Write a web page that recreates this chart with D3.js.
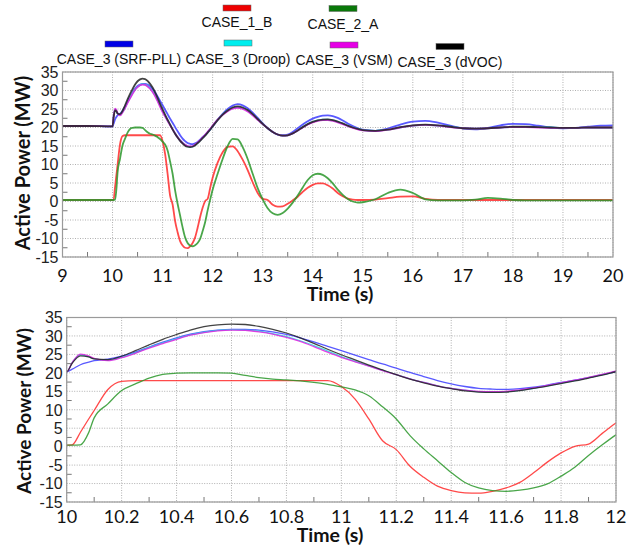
<!DOCTYPE html>
<html lang="en">
<head>
<meta charset="utf-8" />
<title>Active Power - CASE comparison</title>
<style>
  body { margin: 0; padding: 0; background: #fff; }
  svg { display: block; }
  .grid line { stroke: #b0b0b0; stroke-width: 1; stroke-dasharray: 1,1.5; }
  .frame { fill: none; stroke: #9a9a9a; stroke-width: 1.2; }
  .minor line { stroke: #777; stroke-width: 1; }
  .ytick { font-family: "Liberation Sans", Arial, sans-serif; font-size: 16px; fill: #222; }
  .xtick { font-family: Lato, "Open Sans", sans-serif; font-size: 18px; fill: #111; }
  .axis-title { font-family: Lato, "Open Sans", sans-serif; font-weight: bold; fill: #111; }
  .legend text { font-family: "Liberation Sans", Arial, sans-serif; font-size: 14px; fill: #111; }
  .series { fill: none; stroke-linejoin: round; stroke-opacity: 0.85; }
</style>
</head>
<body>
<div id="chart"></div>
<script src="https://d3js.org/d3.v7.min.js"></script>
<script>
// time axis (s), shared by every series
const times = [
  9, 9.5, 10, 10.02, 10.05, 10.08,
  10.1, 10.15, 10.2, 10.25, 10.3, 10.35, 10.4, 10.45, 10.5, 10.55,
  10.6, 10.65, 10.7, 10.75, 10.8, 10.85, 10.9, 10.95, 11, 11.05,
  11.1, 11.15, 11.2, 11.25, 11.3, 11.35, 11.4, 11.45, 11.5, 11.55,
  11.6, 11.65, 11.7, 11.75, 11.8, 11.85, 11.9, 11.95, 12,
  12.1, 12.2, 12.3, 12.4, 12.5, 12.6, 12.7, 12.8, 12.9, 13,
  13.1, 13.2, 13.3, 13.4, 13.5, 13.6, 13.7, 13.8, 13.9, 14,
  14.1, 14.2, 14.3, 14.4, 14.5, 14.6, 14.7, 14.8, 14.9, 15,
  15.25, 15.5, 15.75, 16, 16.25, 16.5, 16.75, 17, 17.25, 17.5,
  17.75, 18, 18.25, 18.5, 18.75, 19, 19.25, 19.5, 19.75, 20
];

// active power (MW)
const case1B = [
  0.4, 0.4, 0.4, 0.5, 3.9, 7.5,
  9.8, 15.5, 17.7, 17.9, 17.9, 17.9, 17.9, 17.9, 17.9, 17.9,
  17.9, 17.9, 17.9, 17.9, 17.9, 17.9, 17.9, 17.9, 16.3, 12.9,
  7.5, 1.6, -0.8, -5.3, -8.3, -10.7, -11.9, -12.5, -12.6, -12.1,
  -11.2, -9.7, -7.1, -4.2, -1.7, 0.1, 0.7, 3.6, 6.4,
  10.5, 13.3, 14.8, 14.9, 13.6, 11.3, 8.5, 5.2, 2.3, 0.7,
  0.4, -0.9, -1.4, -1.3, -0.6, 0.3, 1.3, 2.6, 3.7, 4.5,
  4.9, 4.9, 4.4, 3.5, 2.3, 1.4, 0.8, 0.5, 0.4, 0.4,
  0.5, 0.9, 1.3, 1.4, 0.7, 0.4, 0.4, 0.4, 0.4, 0.4,
  0.4, 0.4, 0.4, 0.4, 0.4, 0.4, 0.4, 0.4, 0.4, 0.4
];
const case2A = [
  0.4, 0.4, 0.4, 0.4, 0.5, 3.8,
  7.8, 11.6, 15.2, 17.0, 18.6, 19.6, 19.9, 20, 20, 20,
  19.9, 19.3, 18.7, 18.3, 18.1, 17.8, 17.4, 16.9, 16.2, 15.4,
  13.8, 10.8, 7.5, 3.0, -0.6, -3.8, -7.0, -9.7, -11.2, -11.9,
  -12.1, -11.8, -11.2, -10.1, -8.0, -5.6, -2.4, 0.5, 3.2,
  7.5, 11.5, 15.0, 16.9, 16.8, 14.7, 11.5, 7.5, 3.6, 0.6,
  -1.8, -3.2, -3.6, -3.1, -1.9, -0.3, 1.6, 3.8, 5.8, 7.1,
  7.5, 7.2, 6.3, 4.9, 3.2, 1.8, 0.7, 0.0, -0.3, -0.2,
  0.6, 2.3, 3.2, 2.3, 0.6, 0.3, 0.3, 0.3, 0.5, 1.0,
  0.8, 0.4, 0.3, 0.3, 0.3, 0.3, 0.3, 0.3, 0.3, 0.3
];
const case3SrfPll = [
  20.4, 20.4, 20.3, 21.0, 22.2, 22.9,
  23.3, 23.7, 24.5, 25.6, 27.0, 28.3, 29.5, 30.5, 31.2, 31.6,
  31.8, 31.8, 31.6, 31.1, 30.4, 29.5, 28.4, 27.2, 26.0, 24.8,
  23.6, 22.4, 21.3, 20.1, 19.0, 17.9, 17.0, 16.3, 15.8, 15.6,
  15.5, 15.7, 16.1, 16.7, 17.4, 18.0, 18.7, 19.5, 20.3,
  22.1, 23.7, 25.0, 25.9, 26.3, 26.0, 25.2, 24.0, 22.6, 21.1,
  19.8, 18.8, 18.1, 17.9, 18.1, 18.8, 19.8, 20.8, 21.7, 22.4,
  22.9, 23.2, 23.3, 23.1, 22.6, 21.9, 21.1, 20.4, 19.8, 19.4,
  19.1, 19.7, 20.8, 21.6, 21.8, 21.3, 20.5, 19.8, 19.5, 19.9,
  20.6, 21.0, 20.9, 20.5, 20.0, 19.8, 19.9, 20.2, 20.5, 20.6
];
const case3Droop = [
  20.4, 20.4, 20.3, 22.8, 24.9, 24.4,
  23.8, 23.4, 24.2, 25.4, 26.9, 28.1, 29.3, 30.3, 31.0, 31.5,
  31.7, 31.6, 31.3, 30.6, 29.8, 28.7, 27.4, 25.9, 24.4, 23.1,
  21.9, 20.7, 19.5, 18.4, 17.4, 16.5, 15.8, 15.3, 14.9, 14.8,
  14.9, 15.3, 15.8, 16.5, 17.2, 17.9, 18.7, 19.5, 20.4,
  22.1, 23.5, 24.5, 25.2, 25.5, 25.2, 24.5, 23.4, 22.2, 20.9,
  19.8, 18.8, 18.1, 17.8, 17.9, 18.4, 19.2, 20.1, 20.9, 21.5,
  21.9, 22.1, 22.1, 21.9, 21.5, 21.0, 20.5, 20.0, 19.6, 19.3,
  19.1, 19.4, 20.0, 20.5, 20.7, 20.5, 20.2, 19.8, 19.7, 19.8,
  20.0, 20.1, 20.1, 20.1, 20.0, 19.9, 19.9, 20.0, 20.0, 20.0
];
const case3Vsm = [
  20.4, 20.4, 20.3, 22.8, 25.1, 24.6,
  23.9, 23.3, 24.1, 25.3, 26.7, 27.9, 29.1, 30.2, 30.9, 31.4,
  31.6, 31.5, 31.1, 30.5, 29.6, 28.5, 27.1, 25.6, 24.2, 23.0,
  21.8, 20.6, 19.5, 18.4, 17.4, 16.5, 15.8, 15.3, 15.0, 14.9,
  15.0, 15.4, 15.9, 16.6, 17.3, 18.0, 18.8, 19.6, 20.5,
  22.1, 23.4, 24.4, 25.1, 25.3, 25.0, 24.3, 23.3, 22.1, 20.9,
  19.8, 18.8, 18.1, 17.8, 17.9, 18.4, 19.2, 20.0, 20.8, 21.4,
  21.8, 22.0, 22.0, 21.8, 21.4, 20.9, 20.4, 19.9, 19.5, 19.2,
  19.0, 19.4, 20.0, 20.5, 20.7, 20.5, 20.1, 19.8, 19.7, 19.8,
  20.0, 20.1, 20.1, 20.0, 19.9, 19.9, 19.9, 20.0, 20.0, 20.0
];
const case3Dvoc = [
  20.4, 20.4, 20.3, 22.6, 24.6, 24.3,
  23.8, 23.6, 24.5, 26.0, 27.6, 29.1, 30.4, 31.6, 32.5, 33.0,
  33.2, 33.1, 32.6, 31.8, 30.8, 29.5, 28.0, 26.4, 24.9, 23.5,
  22.1, 20.8, 19.5, 18.3, 17.3, 16.4, 15.7, 15.1, 14.8, 14.7,
  14.8, 15.2, 15.8, 16.4, 17.1, 17.8, 18.6, 19.4, 20.3,
  22.0, 23.5, 24.6, 25.4, 25.7, 25.4, 24.7, 23.6, 22.3, 21.0,
  19.8, 18.8, 18.1, 17.8, 17.9, 18.4, 19.2, 20.1, 20.9, 21.5,
  21.9, 22.1, 22.2, 22.0, 21.6, 21.1, 20.5, 20.0, 19.6, 19.3,
  19.1, 19.4, 20.1, 20.6, 20.8, 20.6, 20.2, 19.8, 19.7, 19.8,
  20.0, 20.2, 20.2, 20.1, 20.0, 19.9, 19.9, 20.0, 20.0, 20.0
];

const seriesNames = ['CASE_1_B', 'CASE_2_A', 'CASE_3 (SRF-PLL)', 'CASE_3 (Droop)', 'CASE_3 (VSM)', 'CASE_3 (dVOC)'];
const topXTicks = [9, 10, 11, 12, 13, 14, 15, 16, 17, 18, 19, 20];
const bottomXTicks = [10, 10.2, 10.4, 10.6, 10.8, 11, 11.2, 11.4, 11.6, 11.8, 12];
const yTicks = [-15, -10, -5, 0, 5, 10, 15, 20, 25, 30, 35];

const seriesValues = [case1B, case2A, case3SrfPll, case3Droop, case3Vsm, case3Dvoc];
const lineColors = ['#ff2a2a', '#2a962a', '#3c3cff', '#22dddd', '#e020e0', '#222222'];
const swatchColors = ['#ee0000', '#0a780a', '#0000e6', '#00eeee', '#e600e6', '#000000'];

const W = 633, H = 548;
const svg = d3.select('#chart').append('svg')
    .attr('width', W)
    .attr('height', H);

const series = seriesValues.map((vals, i) => ({
  name: seriesNames[i],
  points: times.map((t, j) => ({ t: t, v: vals[j] }))
}));

// legend (two rows, swatch centred above each label)
const legendLayout = [
  { cx: 237, sy: 5,  ty: 27 },
  { cx: 343, sy: 5.5, ty: 29 },
  { cx: 119, sy: 41, ty: 63.5 },
  { cx: 238, sy: 40, ty: 63.5 },
  { cx: 344, sy: 42, ty: 65 },
  { cx: 450, sy: 43.5, ty: 66.5 }
];
const legend = svg.append('g').attr('class', 'legend');
legendLayout.forEach((p, i) => {
  legend.append('rect')
      .attr('x', p.cx - 14).attr('y', p.sy)
      .attr('width', 28).attr('height', 6)
      .attr('fill', swatchColors[i])
      .attr('stroke', '#666').attr('stroke-width', 0.5);
  legend.append('text')
      .attr('x', p.cx).attr('y', p.ty)
      .attr('text-anchor', 'middle')
      .text(seriesNames[i]);
});

function drawPanel(cfg) {
  const x = d3.scaleLinear().domain(cfg.xDomain).range([cfg.left, cfg.right]);
  const y = d3.scaleLinear().domain([yTicks[0], yTicks[yTicks.length - 1]]).range([cfg.bottom, cfg.top]);
  const g = svg.append('g');

  const clipId = 'clip-' + cfg.id;
  svg.append('clipPath').attr('id', clipId)
    .append('rect')
      .attr('x', cfg.left).attr('y', cfg.top)
      .attr('width', cfg.right - cfg.left).attr('height', cfg.bottom - cfg.top);

  // dotted grid
  const grid = g.append('g').attr('class', 'grid');
  grid.selectAll('line.v').data(cfg.xTicks).enter().append('line')
      .attr('x1', d => x(d)).attr('x2', d => x(d))
      .attr('y1', cfg.top).attr('y2', cfg.bottom);
  grid.selectAll('line.h').data(yTicks).enter().append('line')
      .attr('x1', cfg.left).attr('x2', cfg.right)
      .attr('y1', d => y(d)).attr('y2', d => y(d));

  // minor ticks between majors
  const minor = g.append('g').attr('class', 'minor');
  const xMinor = d3.pairs(cfg.xTicks).map(p => (p[0] + p[1]) / 2);
  const yMinor = d3.pairs(yTicks).map(p => (p[0] + p[1]) / 2);
  minor.selectAll('line.xm').data(xMinor).enter().append('line')
      .attr('x1', d => x(d)).attr('x2', d => x(d))
      .attr('y1', cfg.bottom).attr('y2', cfg.bottom - 5);
  minor.selectAll('line.ym').data(yMinor).enter().append('line')
      .attr('x1', cfg.left).attr('x2', cfg.left + 5)
      .attr('y1', d => y(d)).attr('y2', d => y(d));

  // data lines
  const line = d3.line()
      .x(d => x(d.t))
      .y(d => y(d.v))
      .curve(d3.curveMonotoneX);
  g.append('g').attr('clip-path', 'url(#' + clipId + ')')
    .selectAll('path')
    .data(series)
    .enter().append('path')
      .attr('class', 'series')
      .attr('stroke', (d, i) => lineColors[i])
      .attr('stroke-width', cfg.lineWidth)
      .attr('d', d => line(d.points));

  g.append('rect').attr('class', 'frame')
      .attr('x', cfg.left).attr('y', cfg.top)
      .attr('width', cfg.right - cfg.left).attr('height', cfg.bottom - cfg.top);

  // tick labels
  g.selectAll('text.ytick').data(yTicks).enter().append('text')
      .attr('class', 'ytick')
      .attr('x', cfg.left - 4)
      .attr('y', d => y(d))
      .attr('dy', '0.36em')
      .attr('text-anchor', 'end')
      .text(d => d);
  g.selectAll('text.xtick').data(cfg.xTicks).enter().append('text')
      .attr('class', 'xtick')
      .attr('x', d => x(d))
      .attr('y', cfg.bottom + cfg.xLabelGap)
      .attr('text-anchor', 'middle')
      .text(d => d3.format(cfg.xFormat)(d));

  // axis titles
  g.append('text').attr('class', 'axis-title')
      .attr('x', cfg.xTitleX).attr('y', cfg.xTitleY)
      .attr('text-anchor', 'middle')
      .style('font-size', '19.5px')
      .text('Time (s)');
  g.append('text').attr('class', 'axis-title')
      .attr('transform', 'translate(' + cfg.yTitleX + ',' + cfg.yTitleY + ') rotate(-90)')
      .attr('text-anchor', 'middle')
      .style('font-size', cfg.yTitleSize + 'px')
      .text('Active Power (MW)');
}

drawPanel({
  id: 'top', xDomain: [9, 20], xTicks: topXTicks, xFormat: 'd',
  left: 62.5, right: 613, top: 72, bottom: 257,
  lineWidth: 1.8, xLabelGap: 25,
  xTitleX: 340, xTitleY: 301, yTitleX: 30, yTitleY: 163, yTitleSize: 20
});

drawPanel({
  id: 'bottom', xDomain: [10, 12], xTicks: bottomXTicks, xFormat: '',
  left: 66.7, right: 616, top: 317.5, bottom: 502,
  lineWidth: 1.3, xLabelGap: 21,
  xTitleX: 330, xTitleY: 542, yTitleX: 31, yTitleY: 411, yTitleSize: 19
});
</script>
</body>
</html>
